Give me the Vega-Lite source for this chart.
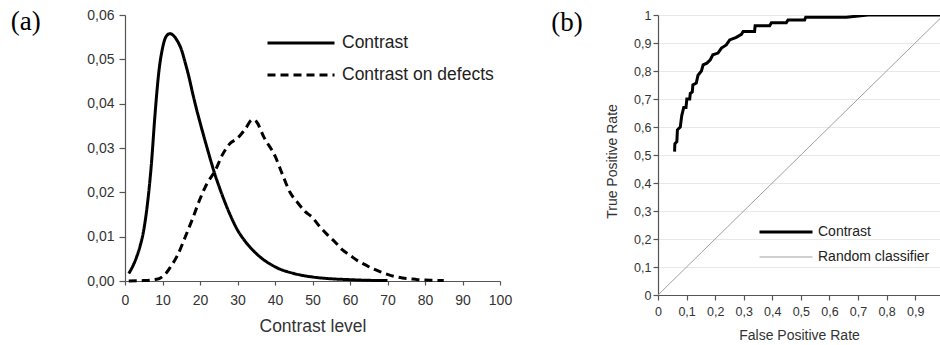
{
  "$schema": "https://vega.github.io/schema/vega-lite/v6.json",
  "padding": {"left": 10, "top": 8, "right": 0, "bottom": 0},
  "spacing": 39,
  "background": "white",
  "hconcat": [
    {
      "width": 375,
      "height": 266,
      "title": {"text": "(a)", "orient": "left", "anchor": "end", "angle": 0, "align": "left", "baseline": "alphabetic", "dy": 22, "offset": 46, "font": "Liberation Serif", "fontSize": 27, "fontWeight": "normal", "color": "black"},
      "data": {"values": [
        {"series": "Contrast", "level": 1, "density": 0.0017},
        {"series": "Contrast", "level": 2, "density": 0.0032},
        {"series": "Contrast", "level": 3, "density": 0.0052},
        {"series": "Contrast", "level": 4, "density": 0.0078},
        {"series": "Contrast", "level": 5, "density": 0.0115},
        {"series": "Contrast", "level": 6, "density": 0.0175},
        {"series": "Contrast", "level": 7, "density": 0.026},
        {"series": "Contrast", "level": 8, "density": 0.0375},
        {"series": "Contrast", "level": 9, "density": 0.047},
        {"series": "Contrast", "level": 10, "density": 0.0525},
        {"series": "Contrast", "level": 11, "density": 0.0552},
        {"series": "Contrast", "level": 12, "density": 0.0558},
        {"series": "Contrast", "level": 13, "density": 0.0553},
        {"series": "Contrast", "level": 14, "density": 0.0541},
        {"series": "Contrast", "level": 15, "density": 0.0523},
        {"series": "Contrast", "level": 16, "density": 0.0494},
        {"series": "Contrast", "level": 17, "density": 0.0462},
        {"series": "Contrast", "level": 18, "density": 0.0425},
        {"series": "Contrast", "level": 19, "density": 0.039},
        {"series": "Contrast", "level": 20, "density": 0.0358},
        {"series": "Contrast", "level": 22, "density": 0.0297},
        {"series": "Contrast", "level": 24, "density": 0.024},
        {"series": "Contrast", "level": 26, "density": 0.0192},
        {"series": "Contrast", "level": 28, "density": 0.015},
        {"series": "Contrast", "level": 30, "density": 0.0115},
        {"series": "Contrast", "level": 32, "density": 0.009},
        {"series": "Contrast", "level": 35, "density": 0.0062},
        {"series": "Contrast", "level": 40, "density": 0.0032},
        {"series": "Contrast", "level": 45, "density": 0.0017},
        {"series": "Contrast", "level": 50, "density": 0.0009},
        {"series": "Contrast", "level": 55, "density": 0.0005},
        {"series": "Contrast", "level": 60, "density": 0.0003},
        {"series": "Contrast", "level": 65, "density": 0.00015},
        {"series": "Contrast", "level": 70, "density": 0.0001},
        {"series": "Contrast on defects", "level": 1, "density": 0.0},
        {"series": "Contrast on defects", "level": 5, "density": 0.0001},
        {"series": "Contrast on defects", "level": 9, "density": 0.0005},
        {"series": "Contrast on defects", "level": 10, "density": 0.001},
        {"series": "Contrast on defects", "level": 11, "density": 0.0018},
        {"series": "Contrast on defects", "level": 12, "density": 0.003},
        {"series": "Contrast on defects", "level": 14, "density": 0.0058},
        {"series": "Contrast on defects", "level": 16, "density": 0.0098},
        {"series": "Contrast on defects", "level": 18, "density": 0.014},
        {"series": "Contrast on defects", "level": 20, "density": 0.0185},
        {"series": "Contrast on defects", "level": 22, "density": 0.0222},
        {"series": "Contrast on defects", "level": 24, "density": 0.0248},
        {"series": "Contrast on defects", "level": 26, "density": 0.0285},
        {"series": "Contrast on defects", "level": 28, "density": 0.031},
        {"series": "Contrast on defects", "level": 30, "density": 0.0322},
        {"series": "Contrast on defects", "level": 32, "density": 0.0342},
        {"series": "Contrast on defects", "level": 34, "density": 0.0364},
        {"series": "Contrast on defects", "level": 35, "density": 0.036},
        {"series": "Contrast on defects", "level": 37, "density": 0.0325},
        {"series": "Contrast on defects", "level": 40, "density": 0.0282},
        {"series": "Contrast on defects", "level": 42, "density": 0.024},
        {"series": "Contrast on defects", "level": 44, "density": 0.02},
        {"series": "Contrast on defects", "level": 46, "density": 0.0177},
        {"series": "Contrast on defects", "level": 48, "density": 0.0157},
        {"series": "Contrast on defects", "level": 50, "density": 0.0143},
        {"series": "Contrast on defects", "level": 52, "density": 0.0122},
        {"series": "Contrast on defects", "level": 54, "density": 0.0104},
        {"series": "Contrast on defects", "level": 56, "density": 0.0088},
        {"series": "Contrast on defects", "level": 58, "density": 0.007},
        {"series": "Contrast on defects", "level": 60, "density": 0.0058},
        {"series": "Contrast on defects", "level": 62, "density": 0.0046},
        {"series": "Contrast on defects", "level": 64, "density": 0.0037},
        {"series": "Contrast on defects", "level": 66, "density": 0.0028},
        {"series": "Contrast on defects", "level": 68, "density": 0.0021},
        {"series": "Contrast on defects", "level": 70, "density": 0.0015},
        {"series": "Contrast on defects", "level": 72, "density": 0.001},
        {"series": "Contrast on defects", "level": 74, "density": 0.0007},
        {"series": "Contrast on defects", "level": 76, "density": 0.0005},
        {"series": "Contrast on defects", "level": 78, "density": 0.0003},
        {"series": "Contrast on defects", "level": 80, "density": 0.0002},
        {"series": "Contrast on defects", "level": 82, "density": 0.00015},
        {"series": "Contrast on defects", "level": 85, "density": 0.0001}
      ]},
      "mark": {"type": "line", "strokeWidth": 3, "interpolate": "monotone"},
      "encoding": {
        "x": {"field": "level", "type": "quantitative", "scale": {"domain": [0, 100], "nice": false},
          "axis": {"values": [0, 10, 20, 30, 40, 50, 60, 70, 80, 90, 100], "title": "Contrast level", "titleFontSize": 17.5, "titlePadding": 10, "labelFontSize": 14, "tickSize": 4, "labelPadding": 8}},
        "y": {"field": "density", "type": "quantitative", "scale": {"domain": [0, 0.06], "nice": false},
          "axis": {"values": [0, 0.01, 0.02, 0.03, 0.04, 0.05, 0.06], "labelExpr": "replace(format(datum.value, '.2f'), '.', ',')", "title": null, "labelFontSize": 14, "tickSize": 6, "labelPadding": 5}},
        "color": {"field": "series", "type": "nominal", "scale": {"domain": ["Contrast", "Contrast on defects"], "range": ["black", "black"]},
          "legend": {"title": null, "orient": "none", "legendX": 141, "legendY": 19, "symbolType": "stroke", "symbolSize": 4489, "symbolStrokeWidth": 3, "clipHeight": 18, "labelFontSize": 17.5, "labelOffset": 6, "rowPadding": 14, "labelColor": "#222"}},
        "strokeDash": {"field": "series", "type": "nominal", "scale": {"domain": ["Contrast", "Contrast on defects"], "range": [[1, 0], [8, 5]]},
          "legend": {"title": null, "orient": "none", "legendX": 141, "legendY": 19, "symbolType": "stroke", "symbolSize": 4489, "symbolStrokeWidth": 3, "clipHeight": 18, "labelFontSize": 17.5, "labelOffset": 6, "rowPadding": 14, "labelColor": "#222"}}
      }
    },
    {
      "width": 282,
      "height": 280,
      "title": {"text": "(b)", "orient": "left", "anchor": "end", "angle": 0, "align": "left", "baseline": "alphabetic", "dy": 22, "offset": 23, "font": "Liberation Serif", "fontSize": 27, "fontWeight": "normal", "color": "black"},
      "data": {"values": [
        {"series": "Random classifier", "fpr": 0, "tpr": 0},
        {"series": "Random classifier", "fpr": 1, "tpr": 1},
        {"series": "Contrast", "fpr": 0.058, "tpr": 0.512},
        {"series": "Contrast", "fpr": 0.059, "tpr": 0.54},
        {"series": "Contrast", "fpr": 0.066, "tpr": 0.548},
        {"series": "Contrast", "fpr": 0.068, "tpr": 0.59},
        {"series": "Contrast", "fpr": 0.078, "tpr": 0.6},
        {"series": "Contrast", "fpr": 0.083, "tpr": 0.64},
        {"series": "Contrast", "fpr": 0.09, "tpr": 0.67},
        {"series": "Contrast", "fpr": 0.098, "tpr": 0.67},
        {"series": "Contrast", "fpr": 0.101, "tpr": 0.7},
        {"series": "Contrast", "fpr": 0.111, "tpr": 0.7},
        {"series": "Contrast", "fpr": 0.113, "tpr": 0.72},
        {"series": "Contrast", "fpr": 0.12, "tpr": 0.725},
        {"series": "Contrast", "fpr": 0.122, "tpr": 0.75},
        {"series": "Contrast", "fpr": 0.134, "tpr": 0.757},
        {"series": "Contrast", "fpr": 0.14, "tpr": 0.785},
        {"series": "Contrast", "fpr": 0.152, "tpr": 0.8},
        {"series": "Contrast", "fpr": 0.158, "tpr": 0.822},
        {"series": "Contrast", "fpr": 0.171, "tpr": 0.828},
        {"series": "Contrast", "fpr": 0.183, "tpr": 0.84},
        {"series": "Contrast", "fpr": 0.192, "tpr": 0.858},
        {"series": "Contrast", "fpr": 0.21, "tpr": 0.864},
        {"series": "Contrast", "fpr": 0.222, "tpr": 0.882},
        {"series": "Contrast", "fpr": 0.239, "tpr": 0.893},
        {"series": "Contrast", "fpr": 0.251, "tpr": 0.911},
        {"series": "Contrast", "fpr": 0.274, "tpr": 0.92},
        {"series": "Contrast", "fpr": 0.292, "tpr": 0.931},
        {"series": "Contrast", "fpr": 0.298, "tpr": 0.941},
        {"series": "Contrast", "fpr": 0.338, "tpr": 0.941},
        {"series": "Contrast", "fpr": 0.34, "tpr": 0.962},
        {"series": "Contrast", "fpr": 0.391, "tpr": 0.962},
        {"series": "Contrast", "fpr": 0.397, "tpr": 0.972},
        {"series": "Contrast", "fpr": 0.449, "tpr": 0.972},
        {"series": "Contrast", "fpr": 0.455, "tpr": 0.982},
        {"series": "Contrast", "fpr": 0.513, "tpr": 0.982},
        {"series": "Contrast", "fpr": 0.517, "tpr": 0.992},
        {"series": "Contrast", "fpr": 0.659, "tpr": 0.992},
        {"series": "Contrast", "fpr": 0.735, "tpr": 1.0},
        {"series": "Contrast", "fpr": 1.0, "tpr": 1.0}
      ]},
      "mark": {"type": "line", "clip": true},
      "encoding": {
        "x": {"field": "fpr", "type": "quantitative", "scale": {"domain": [0, 0.987], "nice": false, "zero": false},
          "axis": {"values": [0, 0.1, 0.2, 0.3, 0.4, 0.5, 0.6, 0.7, 0.8, 0.9], "labelExpr": "datum.value == 0 ? '0' : replace(format(datum.value, '.1f'), '.', ',')", "title": "False Positive Rate", "titleFontSize": 14, "titlePadding": 11, "labelFontSize": 12.5, "tickSize": 5, "labelPadding": 5}},
        "y": {"field": "tpr", "type": "quantitative", "scale": {"domain": [0, 1], "nice": false},
          "axis": {"values": [0, 0.1, 0.2, 0.3, 0.4, 0.5, 0.6, 0.7, 0.8, 0.9, 1], "labelExpr": "datum.value == 0 ? '0' : datum.value == 1 ? '1' : replace(format(datum.value, '.1f'), '.', ',')", "title": "True Positive Rate", "titleY": 146, "titleFontSize": 14, "titlePadding": 14, "labelFontSize": 12.5, "tickSize": 5, "labelPadding": 2, "grid": true, "gridColor": "#e8e8e8"}},
        "color": {"field": "series", "type": "nominal", "scale": {"domain": ["Contrast", "Random classifier"], "range": ["black", "#a0a0a0"]},
          "legend": {"title": null, "orient": "none", "legendX": 100, "legendY": 210, "symbolType": "stroke", "symbolSize": 2809, "clipHeight": 14, "labelFontSize": 14, "labelOffset": 4, "rowPadding": 11, "labelColor": "#222"}},
        "strokeWidth": {"field": "series", "type": "nominal", "scale": {"domain": ["Contrast", "Random classifier"], "range": [3, 1]},
          "legend": {"title": null, "orient": "none", "legendX": 100, "legendY": 210, "symbolType": "stroke", "symbolSize": 2809, "clipHeight": 14, "labelFontSize": 14, "labelOffset": 4, "rowPadding": 11, "labelColor": "#222"}}
      }
    }
  ],
  "resolve": {
    "scale": {"color": "independent", "strokeDash": "independent", "strokeWidth": "independent", "x": "independent", "y": "independent"},
    "legend": {"color": "independent", "strokeDash": "independent", "strokeWidth": "independent"}
  },
  "config": {
    "view": {"stroke": null},
    "font": "Liberation Sans",
    "axis": {"domainColor": "#555", "tickColor": "#555", "labelColor": "#333", "titleColor": "#333", "labelFont": "Liberation Sans", "titleFont": "Liberation Sans", "titleFontWeight": "normal", "grid": false, "domainWidth": 1.2, "tickWidth": 1.2, "labelFlush": false},
    "legend": {"labelFont": "Liberation Sans"}
  }
}
